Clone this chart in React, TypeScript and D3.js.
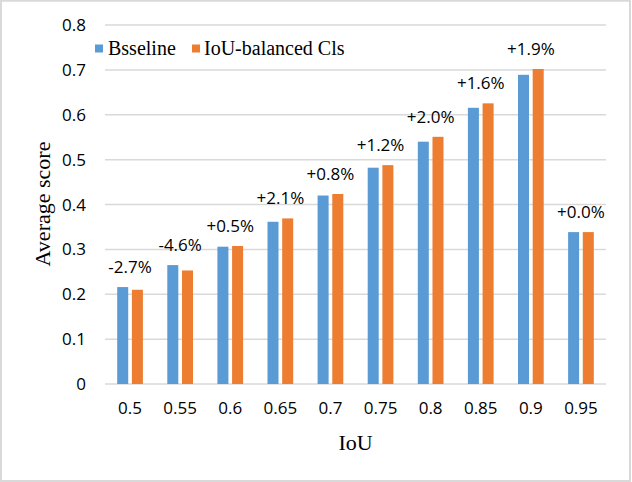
import React, { useEffect } from "react";
import * as d3 from "d3";

const categories = ["0.5", "0.55", "0.6", "0.65", "0.7", "0.75", "0.8", "0.85", "0.9", "0.95"];
const baseline = [0.216, 0.265, 0.306, 0.3615, 0.42, 0.482, 0.54, 0.6155, 0.689, 0.3385];
const balanced = [0.210, 0.253, 0.3075, 0.369, 0.4234, 0.4877, 0.5508, 0.6254, 0.702, 0.3385];
const gainLabels = ["-2.7%", "-4.6%", "+0.5%", "+2.1%", "+0.8%", "+1.2%", "+2.0%", "+1.6%", "+1.9%", "+0.0%"];
const seriesNames = ["Bsseline", "IoU-balanced Cls"];
const yTicks = [0, 0.1, 0.2, 0.3, 0.4, 0.5, 0.6, 0.7, 0.8];

const W = 632;
const H = 482;
const COLORS = ["#5b9bd5", "#ed7d31"];
const SANS = "'Open Sans', 'Noto Sans', sans-serif";
const SERIF = "'Liberation Serif', 'DejaVu Serif', serif";

export default function App() {
  useEffect(() => {
    document.body.style.margin = "0";
  }, []);

  const x = d3.scaleBand<string>().domain(categories).range([105, 606]).paddingInner(0.487).paddingOuter(0.2435);
  const xs = d3.scaleBand<number>().domain([0, 1]).range([0, x.bandwidth()]).paddingInner(0.25).paddingOuter(0);
  const y = d3.scaleLinear().domain([0, 0.8]).range([384, 25]);
  const series = [baseline, balanced];
  const fmt = d3.format(".1f");

  return (
    <svg width={W} height={H} style={{ display: "block" }}>
      <rect x={0} y={0} width={W} height={H} fill="#ffffff" />
      <rect x={1} y={0.75} width={629} height={480.25} fill="none" stroke="#d9d9d9" strokeWidth={2} />
      {yTicks.map((t) => (
        <g key={t}>
          <line x1={105} x2={606} y1={y(t)} y2={y(t)} stroke="#d9d9d9" strokeWidth={1.5} />
          <text x={86} y={y(t) + 6} textAnchor="end" fontFamily={SANS} fontSize={17} fill="#000">
            {t === 0 ? "0" : fmt(t)}
          </text>
        </g>
      ))}
      {categories.map((c, i) => (
        <g key={c}>
          {series.map((s, k) => (
            <rect
              key={k}
              x={(x(c) as number) + (xs(k) as number)}
              y={y(s[i])}
              width={xs.bandwidth()}
              height={y(0) - y(s[i])}
              fill={COLORS[k]}
            />
          ))}
          <text
            x={(x(c) as number) + x.bandwidth() / 2}
            y={y(Math.max(baseline[i], balanced[i])) - 14}
            textAnchor="middle"
            fontFamily={SANS}
            fontSize={17}
            fill="#000"
          >
            {gainLabels[i]}
          </text>
          <text
            x={(x(c) as number) + x.bandwidth() / 2}
            y={414}
            textAnchor="middle"
            fontFamily={SANS}
            fontSize={17}
            fill="#000"
          >
            {c}
          </text>
        </g>
      ))}
      <text x={355.5} y={450} textAnchor="middle" fontFamily={SERIF} fontSize={22} fill="#000">
        IoU
      </text>
      <text
        transform={`translate(49.5,204) rotate(-90)`}
        textAnchor="middle"
        fontFamily={SERIF}
        fontSize={22}
        fill="#000"
      >
        Average score
      </text>
      <g>
        <rect x={95} y={44.5} width={8} height={8} fill={COLORS[0]} />
        <text x={108} y={54.5} fontFamily={SERIF} fontSize={20} fill="#000">
          {seriesNames[0]}
        </text>
        <rect x={192} y={44.5} width={8} height={8} fill={COLORS[1]} />
        <text x={204} y={54.5} fontFamily={SERIF} fontSize={20} fill="#000">
          {seriesNames[1]}
        </text>
      </g>
    </svg>
  );
}
